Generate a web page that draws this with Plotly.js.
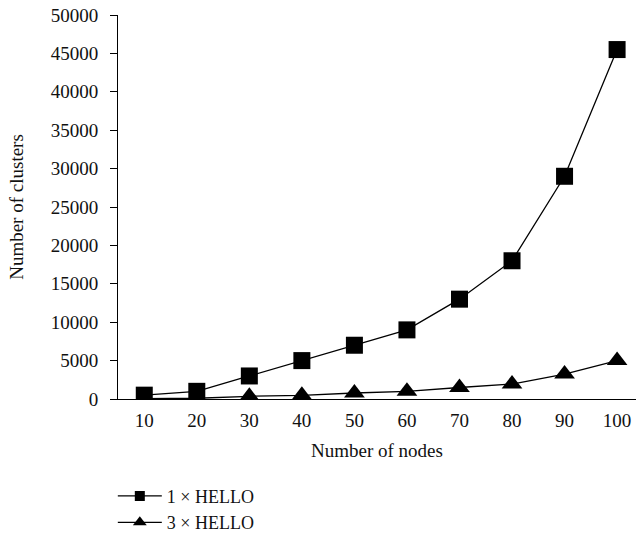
<!DOCTYPE html>
<html>
<head>
<meta charset="utf-8">
<script src="https://cdn.plot.ly/plotly-3.0.1.min.js"></script>
<style>html,body{margin:0;padding:0;background:#fff;}#chart{width:636px;height:536px;}</style>
</head>
<body>
<div id="chart"></div>
<script>
const nodes = [10, 20, 30, 40, 50, 60, 70, 80, 90, 100];
const hello1 = [500, 1000, 3000, 5000, 7000, 9000, 13000, 18000, 29000, 45500];
const hello3 = [50, 100, 350, 480, 780, 1000, 1500, 1950, 3250, 5000];
const seriesNames = ['1 × HELLO', '3 × HELLO'];
const yTicks = [0, 5000, 10000, 15000, 20000, 25000, 30000, 35000, 40000, 45000, 50000];

const FONT = 'Liberation Serif, Times New Roman, serif';
const FS = 19;
const symbols = ['square', 'triangle-up'];
const sizes = [17, 18];
const legendSizes = [10, 12];

const traces = [];
[hello1, hello3].forEach((ys, i) => {
  traces.push({x: nodes, y: ys, name: seriesNames[i], mode: 'lines+markers', type: 'scatter',
    showlegend: false, line: {color: '#000', width: 1.3},
    marker: {symbol: symbols[i], size: sizes[i], color: '#000'}});
});
// legend entries (no data points drawn)
[hello1, hello3].forEach((ys, i) => {
  traces.push({x: [null], y: [null], name: seriesNames[i], mode: 'lines+markers', type: 'scatter',
    showlegend: true, line: {color: '#000', width: 1.3},
    marker: {symbol: symbols[i], size: legendSizes[i], color: '#000'}});
});

const layout = {
  width: 636, height: 536,
  margin: {l: 118, r: 0, t: 15, b: 137, autoexpand: false},
  paper_bgcolor: '#fff', plot_bgcolor: '#fff',
  font: {family: FONT, size: FS, color: '#111'},
  showlegend: true,
  legend: {x: -0.01, xanchor: 'left', y: -0.205, yanchor: 'top',
           font: {family: FONT, size: 18, color: '#111'}, itemwidth: 44,
           tracegroupgap: 0, bgcolor: 'rgba(0,0,0,0)'},
  xaxis: {range: [5, 103.6], tickmode: 'array', tickvals: nodes, ticktext: nodes.map(String),
          showgrid: false, zeroline: false, showline: true, linecolor: '#000', linewidth: 1,
          ticks: '', ticklen: 0, automargin: false, ticklabelstandoff: 4,
          title: {text: 'Number of nodes', font: {family: FONT, size: FS, color: '#111'}, standoff: 13},
          tickfont: {family: FONT, size: FS, color: '#111'}},
  yaxis: {range: [0, 50000], tickmode: 'array', tickvals: yTicks, ticktext: yTicks.map(String),
          showgrid: false, zeroline: false, showline: true, linecolor: '#000', linewidth: 1,
          ticks: 'outside', ticklen: 7, tickcolor: '#000', automargin: false, ticklabelstandoff: 8,
          title: {text: 'Number of clusters', font: {family: FONT, size: FS, color: '#111'}, standoff: 22},
          tickfont: {family: FONT, size: FS, color: '#111'}}
};

Plotly.newPlot('chart', traces, layout, {displayModeBar: false, staticPlot: true});
</script>
</body>
</html>
